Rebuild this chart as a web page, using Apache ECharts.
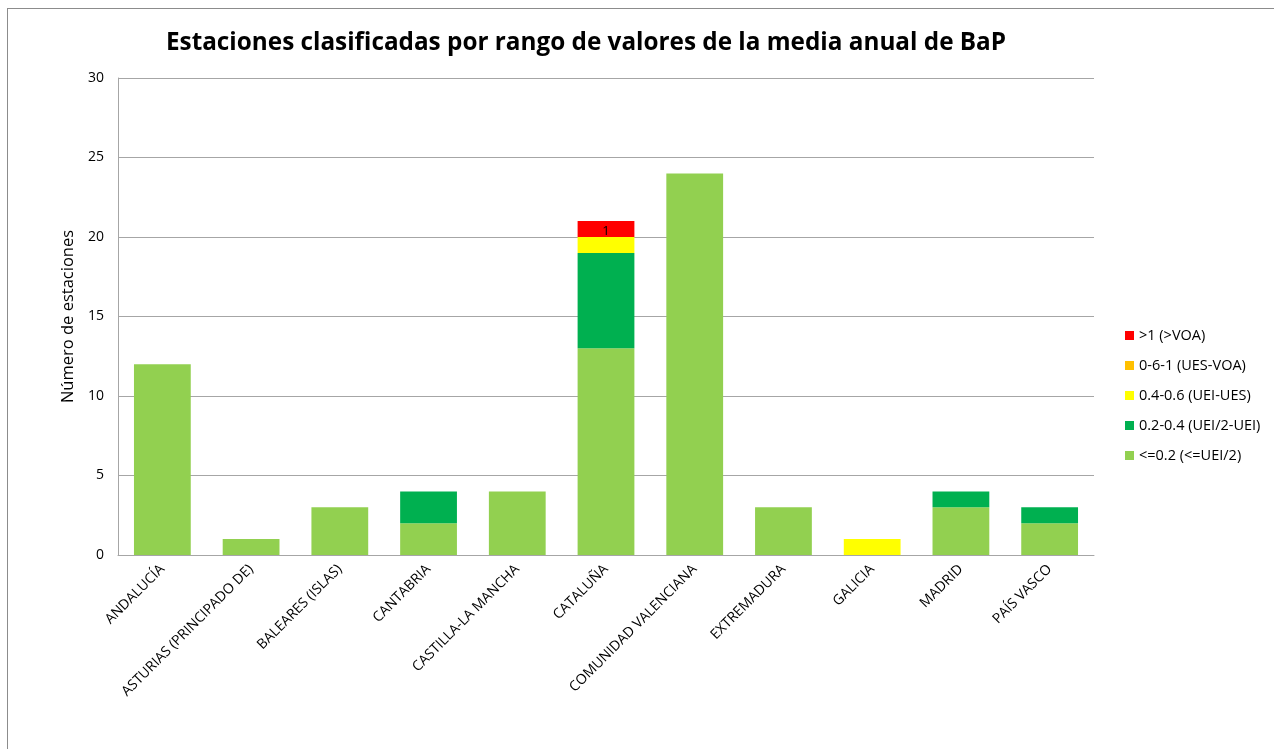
<!DOCTYPE html>
<html>
<head>
<meta charset="utf-8">
<script src="https://cdn.jsdelivr.net/npm/echarts@6/dist/echarts.min.js"></script>
<style>
  html, body { margin: 0; padding: 0; background: #fff; overflow: hidden; }
  #frame { position: absolute; left: 7px; top: 8px; width: 1290px; height: 760px; border: 1px solid #8c8c8c; }
  #chart { position: absolute; left: 0; top: 0; width: 1274px; height: 749px; }
</style>
</head>
<body>
<div id="frame"></div>
<div id="chart"></div>
<script>
// regions (x axis)
const regions = ['ANDALUCÍA', 'ASTURIAS (PRINCIPADO DE)', 'BALEARES (ISLAS)', 'CANTABRIA',
  'CASTILLA-LA MANCHA', 'CATALUÑA', 'COMUNIDAD VALENCIANA', 'EXTREMADURA', 'GALICIA',
  'MADRID', 'PAÍS VASCO'];

// number of stations per range
const low    = [12, 1, 3, 2, 4, 13, 24, 3, 0, 3, 2];   // <=0.2
const mid    = [0, 0, 0, 2, 0, 6, 0, 0, 0, 1, 1];      // 0.2-0.4
const yellow = [0, 0, 0, 0, 0, 1, 0, 0, 1, 0, 0];      // 0.4-0.6
const orange = [0, 0, 0, 0, 0, 0, 0, 0, 0, 0, 0];      // 0.6-1
const high   = [0, 0, 0, 0, 0, 1, 0, 0, 0, 0, 0];      // >1

const yTicks = [0, 5, 10, 15, 20, 25, 30];

const names = ['<=0.2 (<=UEI/2)', '0.2-0.4 (UEI/2-UEI)', '0.4-0.6 (UEI-UES)', '0-6-1 (UES-VOA)', '>1 (>VOA)'];
const colors = ['#92D050', '#00B050', '#FFFF00', '#FFC000', '#FF0000'];
const values = [low, mid, yellow, orange, high];

const font = 'Open Sans';

const chart = echarts.init(document.getElementById('chart'));

const series = values.map((vals, i) => ({
  name: names[i],
  type: 'bar',
  stack: 'total',
  barWidth: '64%',
  itemStyle: { color: colors[i] },
  data: vals.map(v => {
    // only the red segment shows its value
    if (i === 4 && v > 0) {
      return { value: v, label: { show: true, position: 'inside', offset: [0, 2], color: '#000', fontFamily: font, fontSize: 13 } };
    }
    return v === 0 ? '-' : v;
  })
}));

chart.setOption({
  animation: false,
  textStyle: { fontFamily: font },
  title: {
    text: 'Estaciones clasificadas por rango de valores de la media anual de BaP',
    left: 581,
    textAlign: 'center',
    top: 26,
    textStyle: { fontFamily: font, fontSize: 24.3, fontWeight: 'bold', color: '#000' }
  },
  legend: {
    orient: 'vertical',
    left: 1120,
    top: 323,
    itemWidth: 9,
    itemHeight: 9,
    itemGap: 15,
    icon: 'rect',
    data: names.slice().reverse(),
    textStyle: { fontFamily: font, fontSize: 14.5, color: '#000' }
  },
  grid: { left: 118, right: 180, top: 78, bottom: 194 },
  xAxis: {
    type: 'category',
    data: regions,
    axisLine: { lineStyle: { color: '#a6a6a6' } },
    axisTick: { show: false },
    axisLabel: { rotate: 45, interval: 0, fontFamily: font, fontSize: 14, color: '#000', margin: 12 }
  },
  yAxis: {
    type: 'value',
    min: yTicks[0],
    max: yTicks[yTicks.length - 1],
    interval: 5,
    name: 'Número de estaciones',
    nameLocation: 'middle',
    nameGap: 36,
    nameTextStyle: { fontFamily: font, fontSize: 16.5, color: '#000' },
    axisLine: { show: true, lineStyle: { color: '#a6a6a6' } },
    axisTick: { show: false },
    splitLine: { lineStyle: { color: '#a6a6a6' } },
    axisLabel: { fontFamily: font, fontSize: 14, color: '#000', margin: 14 }
  },
  series: series
});
</script>
</body>
</html>
